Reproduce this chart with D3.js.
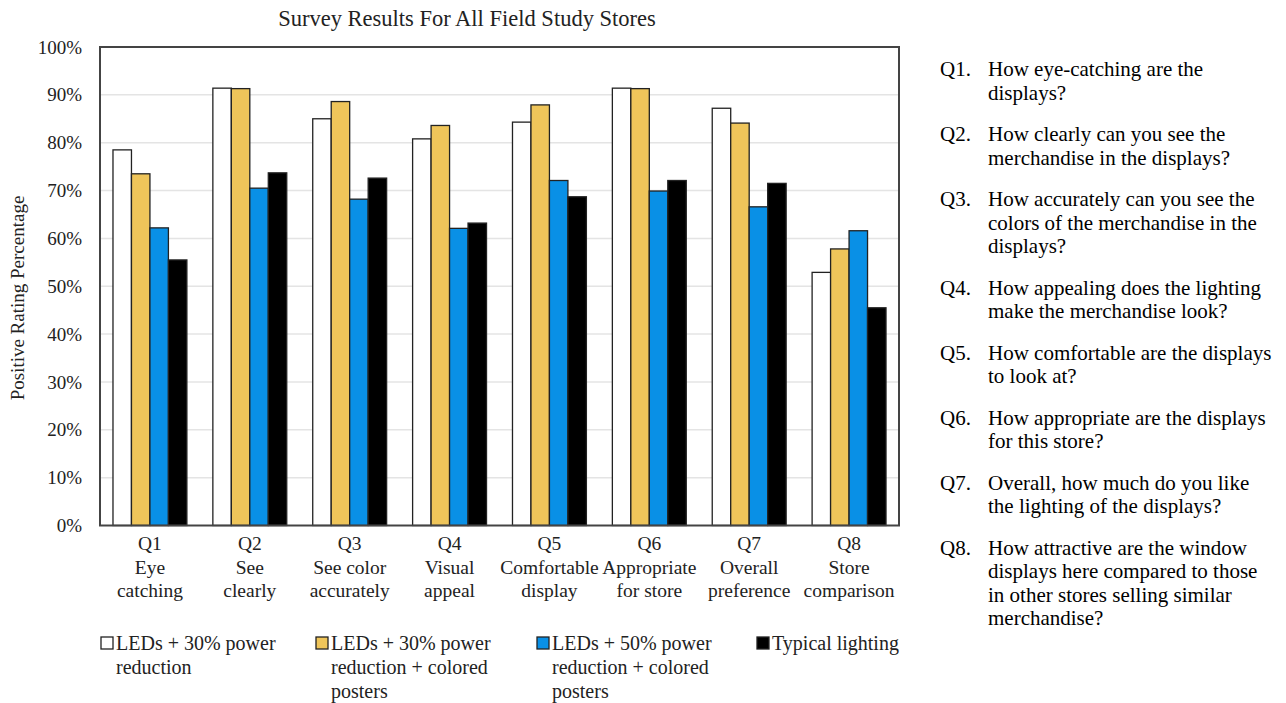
<!DOCTYPE html>
<html>
<head>
<meta charset="utf-8">
<script src="https://cdn.jsdelivr.net/npm/d3@7"></script>
<style>
  body { margin: 0; background: #fff; }
  text { font-family: "Liberation Serif", "Times New Roman", serif; }
</style>
</head>
<body>
<script>
//Categories and series (in %)
var questions = ["Q1", "Q2", "Q3", "Q4", "Q5", "Q6", "Q7", "Q8"];
var qLabels = [["Eye", "catching"], ["See", "clearly"], ["See color", "accurately"], ["Visual", "appeal"],
               ["Comfortable", "display"], ["Appropriate", "for store"], ["Overall", "preference"], ["Store", "comparison"]];
var seriesNames = ["led30", "led30posters", "led50posters", "typical"];
var led30 =        [78.5, 91.4, 85.0, 80.8, 84.3, 91.4, 87.2, 52.9];
var led30posters = [73.5, 91.3, 88.6, 83.6, 87.9, 91.3, 84.1, 57.8];
var led50posters = [62.2, 70.5, 68.2, 62.1, 72.1, 69.9, 66.6, 61.6];
var typical =      [55.5, 73.7, 72.6, 63.2, 68.7, 72.1, 71.5, 45.5];
var legendLines = [["LEDs + 30% power", "reduction"],
                   ["LEDs + 30% power", "reduction + colored", "posters"],
                   ["LEDs + 50% power", "reduction + colored", "posters"],
                   ["Typical lighting"]];
var yTicks = [0, 10, 20, 30, 40, 50, 60, 70, 80, 90, 100];
var questionText = [
  ["How eye-catching are the", "displays?"],
  ["How clearly can you see the", "merchandise in the displays?"],
  ["How accurately can you see the", "colors of the merchandise in the", "displays?"],
  ["How appealing does the lighting", "make the merchandise look?"],
  ["How comfortable are the displays", "to look at?"],
  ["How appropriate are the displays", "for this store?"],
  ["Overall, how much do you like", "the lighting of the displays?"],
  ["How attractive are the window", "displays here compared to those", "in other stores selling similar", "merchandise?"]
];

var colors = ["#ffffff", "#efc55a", "#0990e6", "#000000"];
var values = [led30, led30posters, led50posters, typical];

//Width and height
var w = 1286, h = 703;
var plot = {left: 100, top: 47, right: 899, bottom: 525.5};

var svg = d3.select("body").append("svg")
  .attr("width", w)
  .attr("height", h);

//Scales
var x0 = d3.scaleBand()
  .domain(questions)
  .range([plot.left, plot.right])
  .paddingInner(0.26)
  .paddingOuter(0.13);

var x1 = d3.scaleBand()
  .domain(seriesNames)
  .range([0, x0.bandwidth()])
  .padding(0);

var y = d3.scaleLinear()
  .domain([0, 100])
  .range([plot.bottom, plot.top]);

//Gridlines
svg.append("g")
  .selectAll("line")
  .data(yTicks.slice(1, -1))
  .enter()
  .append("line")
  .attr("x1", plot.left)
  .attr("x2", plot.right)
  .attr("y1", function(d) { return y(d); })
  .attr("y2", function(d) { return y(d); })
  .attr("stroke", "#e4e4e4")
  .attr("stroke-width", 1.5);

//Y axis tick labels
var yAxis = d3.axisLeft(y)
  .tickValues(yTicks)
  .tickSize(0)
  .tickPadding(18)
  .tickFormat(function(d) { return d + "%"; });

var yg = svg.append("g")
  .attr("transform", "translate(" + plot.left + ",0)")
  .call(yAxis);
yg.select(".domain").remove();
yg.selectAll("text")
  .attr("font-family", "Liberation Serif, serif")
  .attr("font-size", 19)
  .attr("fill", "#222");

//Bars
var groups = svg.append("g")
  .selectAll("g")
  .data(questions)
  .enter()
  .append("g")
  .attr("transform", function(d) { return "translate(" + x0(d) + ",0)"; });

groups.selectAll("rect")
  .data(function(d, i) {
    return seriesNames.map(function(s, k) { return {key: s, value: values[k][i], color: colors[k]}; });
  })
  .enter()
  .append("rect")
  .attr("x", function(d) { return x1(d.key); })
  .attr("y", function(d) { return y(d.value); })
  .attr("width", x1.bandwidth())
  .attr("height", function(d) { return y(0) - y(d.value); })
  .attr("fill", function(d) { return d.color; })
  .attr("stroke", "#222")
  .attr("stroke-width", 1.3);

//Plot frame
svg.append("rect")
  .attr("x", plot.left)
  .attr("y", plot.top)
  .attr("width", plot.right - plot.left)
  .attr("height", plot.bottom - plot.top)
  .attr("fill", "none")
  .attr("stroke", "#444")
  .attr("stroke-width", 2);

//X labels (question id + short description)
var xl = svg.append("g")
  .selectAll("text")
  .data(questions)
  .enter()
  .append("text")
  .attr("text-anchor", "middle")
  .attr("font-size", 19.5)
  .attr("fill", "#222");

xl.each(function(d, i) {
  var t = d3.select(this);
  var cx = x0(d) + x0.bandwidth() / 2;
  [d].concat(qLabels[i]).forEach(function(line, j) {
    t.append("tspan")
      .attr("x", cx)
      .attr("y", 550 + j * 23.5)
      .text(line);
  });
});

//Title
svg.append("text")
  .attr("x", 467)
  .attr("y", 26)
  .attr("text-anchor", "middle")
  .attr("font-size", 22.5)
  .attr("fill", "#222")
  .text("Survey Results For All Field Study Stores");

//Y axis title
svg.append("text")
  .attr("transform", "translate(24,298) rotate(-90)")
  .attr("text-anchor", "middle")
  .attr("font-size", 19)
  .attr("fill", "#222")
  .text("Positive Rating Percentage");

//Legend
var legendX = [101, 316, 537, 757];
var legend = svg.append("g")
  .selectAll("g")
  .data(legendLines)
  .enter()
  .append("g")
  .attr("transform", function(d, i) { return "translate(" + legendX[i] + ",637)"; });

legend.append("rect")
  .attr("width", 12)
  .attr("height", 12)
  .attr("fill", function(d, i) { return colors[i]; })
  .attr("stroke", "#222")
  .attr("stroke-width", 1.3);

legend.append("text")
  .attr("font-size", 20)
  .attr("fill", "#222")
  .each(function(lines) {
    var t = d3.select(this);
    lines.forEach(function(line, j) {
      t.append("tspan")
        .attr("x", 15)
        .attr("y", 12.5 + j * 24)
        .text(line);
    });
  });

//Question list on the right
var qy = 76;
questionText.forEach(function(lines, i) {
  svg.append("text")
    .attr("x", 940)
    .attr("y", qy)
    .attr("font-size", 21)
    .attr("fill", "#000")
    .text(questions[i] + ".");
  var t = svg.append("text")
    .attr("font-size", 21)
    .attr("fill", "#000");
  lines.forEach(function(line, j) {
    t.append("tspan")
      .attr("x", 988)
      .attr("y", qy + j * 23.5)
      .text(line);
  });
  qy += lines.length * 23.5 + 18;
});
</script>
</body>
</html>
